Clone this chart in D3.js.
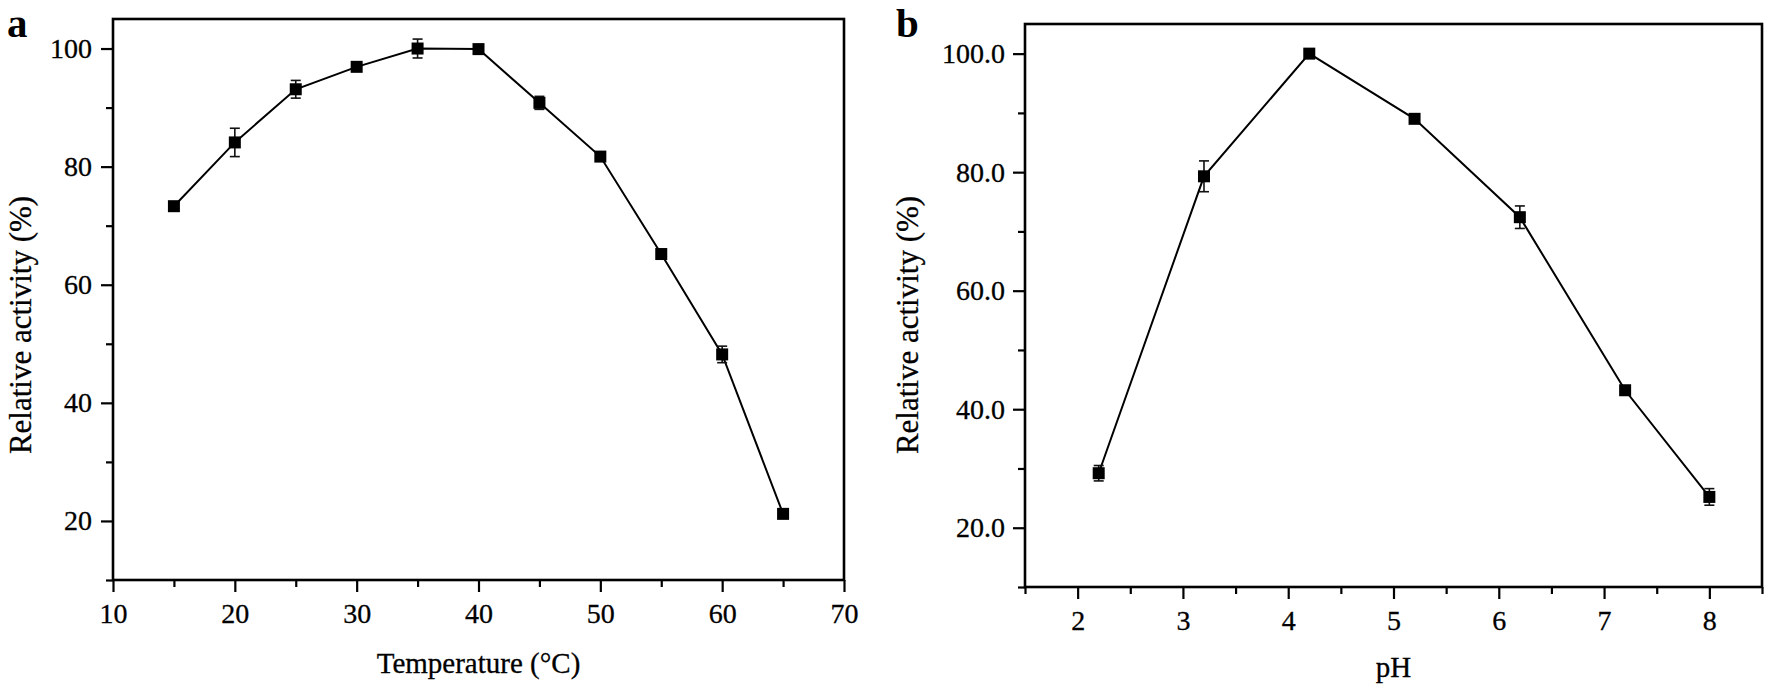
<!DOCTYPE html>
<html><head><meta charset="utf-8">
<script src="https://cdn.jsdelivr.net/npm/d3@7"></script>
<style>
html,body{margin:0;padding:0;background:#fff;}
svg{display:block;}
text{font-family:"Liberation Serif","Times New Roman",serif;fill:#000;}
</style></head>
<body>
<svg id="c" width="1772" height="695"></svg>
<script>
// ---- data ----
const tempX = [15, 20, 25, 30, 35, 40, 45, 50, 55, 60, 65];
const tempY = [73.3, 84.1, 93.1, 96.9, 100, 99.9, 90.8, 81.7, 65.2, 48.2, 21.2];
const tempErr = [0.6, 2.4, 1.5, 0.6, 1.6, 0.4, 1.1, 0.5, 0.5, 1.4, 0.5];
const phX = [2.2, 3.2, 4.2, 5.2, 6.2, 7.2, 8.0];
const phY = [29.2, 79.3, 100, 89.0, 72.4, 43.2, 25.2];
const phErr = [1.3, 2.6, 0.4, 0.6, 1.9, 0.5, 1.4];
const tempXTicks = [10, 20, 30, 40, 50, 60, 70];
const tempXMinor = [15, 25, 35, 45, 55, 65];
const tempYTicks = [20, 40, 60, 80, 100];
const phXTicks = [2, 3, 4, 5, 6, 7, 8];
const phXMinor = [1.5, 2.5, 3.5, 4.5, 5.5, 6.5, 7.5, 8.5];
const phYTicks = [20, 40, 60, 80, 100];
const yMinor = [10, 30, 50, 70, 90];

const svg = d3.select("#c");

function panel(o) {
  const x = d3.scaleLinear().domain(o.xDomain).range([o.left, o.right]);
  const y = d3.scaleLinear().domain([10, 105]).range([o.bottom, o.top]);
  const g = svg.append("g");

  // minor ticks
  g.append("g").attr("transform", `translate(0,${o.bottom})`)
    .call(d3.axisBottom(x).tickValues(o.xMinor).tickSize(7).tickFormat(""))
    .call(s => s.select(".domain").remove())
    .selectAll("line").attr("stroke-width", 2.2);
  g.append("g").attr("transform", `translate(${o.left},0)`)
    .call(d3.axisLeft(y).tickValues(yMinor).tickSize(7).tickFormat(""))
    .call(s => s.select(".domain").remove())
    .selectAll("line").attr("stroke-width", 2.2);

  // major axes
  const xa = g.append("g").attr("transform", `translate(0,${o.bottom})`)
    .call(d3.axisBottom(x).tickValues(o.xTicks).tickSize(12).tickPadding(11).tickFormat(o.xFmt));
  const ya = g.append("g").attr("transform", `translate(${o.left},0)`)
    .call(d3.axisLeft(y).tickValues(o.yTicks).tickSize(12).tickPadding(o.yPad).tickFormat(o.yFmt));
  [xa, ya].forEach(a => {
    a.select(".domain").remove();
    a.selectAll("line").attr("stroke-width", 2.2);
    a.selectAll("text").attr("font-size", 28).attr("font-family", "Liberation Serif")
      .attr("stroke", "#000").attr("stroke-width", 0.3);
  });

  // frame
  g.append("rect").attr("x", o.left).attr("y", o.top)
    .attr("width", o.right - o.left).attr("height", o.bottom - o.top)
    .attr("fill", "none").attr("stroke", "#000").attr("stroke-width", 2.6);

  const pts = o.xs.map((v, i) => ({x: v, y: o.ys[i], e: o.es[i]}));

  // line
  g.append("path").datum(pts)
    .attr("d", d3.line().x(d => x(d.x)).y(d => y(d.y)))
    .attr("fill", "none").attr("stroke", "#000").attr("stroke-width", 2);

  // error bars
  const eb = g.append("g").attr("stroke", "#111").attr("stroke-width", 1.6);
  pts.forEach(d => {
    const cx = x(d.x), y1 = y(d.y + d.e), y2 = y(d.y - d.e);
    eb.append("line").attr("x1", cx).attr("x2", cx).attr("y1", y1).attr("y2", y2);
    eb.append("line").attr("x1", cx - 5).attr("x2", cx + 5).attr("y1", y1).attr("y2", y1);
    eb.append("line").attr("x1", cx - 5).attr("x2", cx + 5).attr("y1", y2).attr("y2", y2);
  });

  // markers
  g.append("g").selectAll("rect").data(pts).join("rect")
    .attr("x", d => x(d.x) - 6).attr("y", d => y(d.y) - 6)
    .attr("width", 12).attr("height", 12).attr("fill", "#000");

  // axis labels
  g.append("text").attr("x", (o.left + o.right) / 2).attr("y", o.xLabelY)
    .attr("text-anchor", "middle").attr("font-size", 29)
    .attr("stroke", "#000").attr("stroke-width", 0.3).text(o.xLabel);
  g.append("text").attr("transform", `translate(${o.yLabelX},325) rotate(-90)`)
    .attr("text-anchor", "middle").attr("font-size", 31)
    .attr("stroke", "#000").attr("stroke-width", 0.3).text("Relative activity (%)");
  g.append("text").attr("x", o.letterX).attr("y", 37)
    .attr("font-size", 41).attr("font-weight", "bold").text(o.letter);
}

panel({
  xDomain: [10, 70], left: 113, right: 844, top: 19, bottom: 580,
  xTicks: tempXTicks, xMinor: tempXMinor, yTicks: tempYTicks,
  xFmt: d3.format("d"), yFmt: d3.format("d"), yPad: 9,
  xs: tempX, ys: tempY, es: tempErr,
  xLabel: "Temperature (°C)", xLabelY: 673, yLabelX: 31,
  letter: "a", letterX: 7
});

panel({
  xDomain: [1.5, 8.5], left: 1025, right: 1762, top: 24, bottom: 587,
  xTicks: phXTicks, xMinor: phXMinor, yTicks: phYTicks,
  xFmt: d3.format("d"), yFmt: d3.format(".1f"), yPad: 8,
  xs: phX, ys: phY, es: phErr,
  xLabel: "pH", xLabelY: 677, yLabelX: 918,
  letter: "b", letterX: 896
});
</script>
</body></html>
